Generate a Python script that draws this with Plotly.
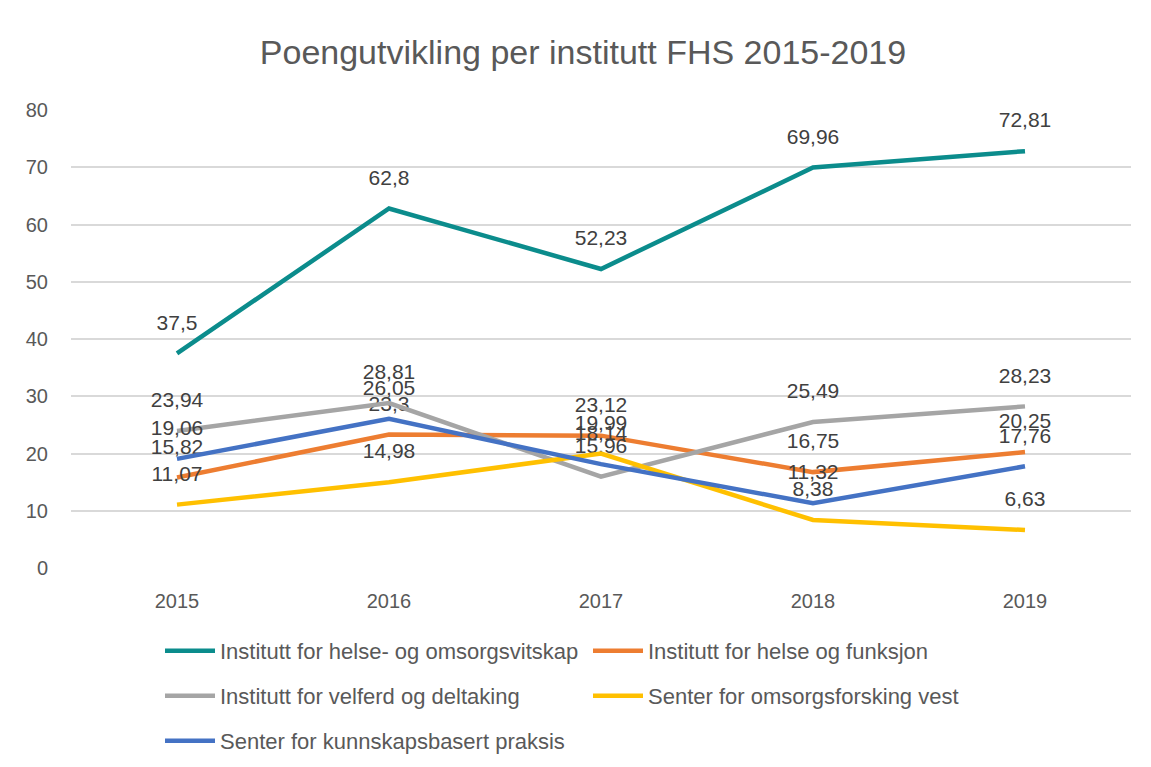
import plotly.graph_objects as go

years = ["2015", "2016", "2017", "2018", "2019"]
helse_omsorg = [37.5, 62.8, 52.23, 69.96, 72.81]
helse_funksjon = [15.82, 23.3, 23.12, 16.75, 20.25]
velferd = [23.94, 28.81, 15.96, 25.49, 28.23]
omsorgsforsking = [11.07, 14.98, 19.99, 8.38, 6.63]
kunnskapsbasert = [19.06, 26.05, 18.14, 11.32, 17.76]

series = [
    ("Institutt for helse- og omsorgsvitskap", helse_omsorg, "#0B8C8C", "legend"),
    ("Institutt for helse og funksjon", helse_funksjon, "#ED7D31", "legend"),
    ("Institutt for velferd og deltaking", velferd, "#A5A5A5", "legend2"),
    ("Senter for omsorgsforsking vest", omsorgsforsking, "#FFC000", "legend2"),
    ("Senter for kunnskapsbasert praksis", kunnskapsbasert, "#4472C4", "legend3"),
]

FONT = "Liberation Sans"
fig = go.Figure()
for name, vals, color, lg in series:
    labels = [("%g" % v).replace(".", ",") for v in vals]
    fig.add_trace(go.Scatter(
        x=years, y=vals, name=name, mode="lines+markers+text",
        line=dict(color=color, width=4.5),
        marker=dict(size=28, color="rgba(0,0,0,0)", line=dict(width=0)),
        text=labels, textposition="top center",
        textfont=dict(family=FONT, size=21, color="#404040"),
        legend=lg, cliponaxis=False,
    ))

# page body adds an 8px offset; work in screen pixels then convert
OFF = 8
W, H = 1151, 767
# screen-pixel plot area: x 71..1131, y 110..568
ml = 71 - OFF
mt = 110 - OFF
mr = W - (1131 - OFF)
mb = H - (568 - OFF)
pw = W - ml - mr
ph = H - mt - mb

def px_x(x):
    return (x - OFF - ml) / pw

def px_y(y):
    return (H - mb - (y - OFF)) / ph

leg_common = dict(orientation="h", entrywidth=363, entrywidthmode="pixels",
                  font=dict(family=FONT, size=22, color="#595959"),
                  xanchor="left", yanchor="middle", bgcolor="rgba(0,0,0,0)",
                  itemwidth=50)

fig.update_layout(
    width=W, height=H,
    margin=dict(l=ml, r=mr, t=mt, b=mb, autoexpand=False),
    paper_bgcolor="white", plot_bgcolor="white",
    title=dict(text="Poengutvikling per institutt FHS 2015-2019",
               x=(583 - OFF) / W, xref="container", xanchor="center",
               y=1 - (52 - OFF) / H, yref="container", yanchor="middle",
               font=dict(family=FONT, size=34, color="#595959")),
    xaxis=dict(type="category", range=[-0.5, 4.5], autorange=False, automargin=False,
               showgrid=False, showline=False, ticks="",
               tickfont=dict(family=FONT, size=20, color="#595959"),
               ticklabelstandoff=19),
    yaxis=dict(range=[0, 80], autorange=False, automargin=False, dtick=10,
               showgrid=True, gridcolor="#D9D9D9",
               gridwidth=1.5, zeroline=False, showline=False, ticks="",
               tickfont=dict(family=FONT, size=20, color="#595959"),
               ticklabelstandoff=22),
    legend=dict(x=px_x(160), y=px_y(651), **leg_common),
    legend2=dict(x=px_x(160), y=px_y(696), **leg_common),
    legend3=dict(x=px_x(160), y=px_y(741), **leg_common),
    shapes=[dict(type="line", xref="paper", yref="paper",
                 x0=px_x(7), x1=px_x(7), y0=px_y(0), y1=px_y(H + 20),
                 line=dict(color="#D9D9D9", width=1.5))],
    hovermode=False,
)

fig.write_html("out.html")
